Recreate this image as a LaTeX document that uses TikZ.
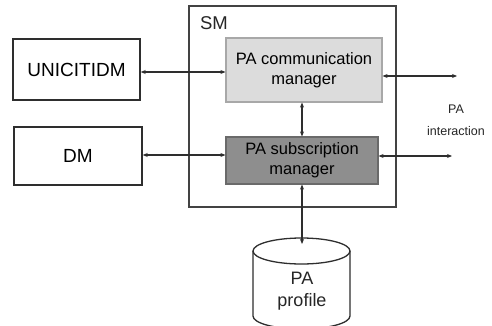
\documentclass[tikz,border=0pt]{standalone}
\usepackage{fontspec}
\setmainfont{Liberation Sans}
\usetikzlibrary{arrows.meta}
\definecolor{linec}{HTML}{2E2E2E}
\definecolor{lightbox}{HTML}{DCDCDC}
\definecolor{lightborder}{HTML}{A8A8A8}
\definecolor{darkbox}{HTML}{8E8E8E}
\definecolor{darkborder}{HTML}{6A6A6A}
\tikzset{
  plainbox/.style={draw=linec, line width=1.4pt, fill=white},
  lightmgr/.style={draw=lightborder, line width=1.2pt, fill=lightbox},
  darkmgr/.style={draw=darkborder, line width=1.2pt, fill=darkbox},
  conn/.style={draw=linec, line width=1.3pt, {Stealth[length=5pt,width=4pt]}-{Stealth[length=5pt,width=4pt]}},
  lbl/.style={inner sep=0pt, align=center, text=black!85}
}
\begin{document}
\begin{tikzpicture}[x=1pt,y=-1pt]
\useasboundingbox (0,0) rectangle (492,326);
% SM container
\draw[draw=linec!90, line width=1.4pt, fill=white] (189,6) rectangle (396,207);
\node[lbl, anchor=center, font=\fontsize{18.5}{20}\selectfont] (smlbl) at (214,23) {SM};
% outer boxes
\node[plainbox, minimum width=127pt, minimum height=61pt, inner sep=0pt, font=\fontsize{19}{21}\selectfont] (uni) at (76.5,69.5) {UNICITIDM};
\node[plainbox, minimum width=128pt, minimum height=58pt, inner sep=0pt, font=\fontsize{19}{21}\selectfont] (dm) at (78,156) {DM};
% managers
\node[lightmgr, minimum width=156pt, minimum height=64pt, inner sep=0pt, align=center, font=\fontsize{16.5}{20}\selectfont] (comm) at (304,70) {PA communication\\manager};
\node[darkmgr, minimum width=152pt, minimum height=47pt, inner sep=0pt, align=center, font=\fontsize{16.5}{20}\selectfont] (sub) at (302,160.5) {PA subscription\\manager};
% cylinder
\draw[draw=linec, line width=1.3pt, fill=white] (253,251) -- (253,316) arc[start angle=180, end angle=360, x radius=48.5pt, y radius=13pt] -- (350,251);
\draw[draw=linec, line width=1.3pt, fill=white] (301.5,251) ellipse[x radius=48.5pt, y radius=13pt];
\node[lbl, font=\fontsize{18}{22}\selectfont] (prof) at (302,291) {PA\\profile};
\coordinate (cyltop) at (302,244);
% right free ends
\coordinate (r1) at (457,76);
\coordinate (r2) at (452,156);
\node[lbl, font=\fontsize{12.5}{22}\selectfont] (pai) at (456,120) {PA\\interaction};
% connectors
\draw[conn] (uni.east |- 0,72) -- (comm.west |- 0,72);
\draw[conn] (dm.east |- 0,155) -- (sub.west |- 0,155);
\draw[conn] (comm.east |- 0,76) -- (r1);
\draw[conn] (sub.east |- 0,156) -- (r2);
\draw[conn] (comm.south -| 302,0) -- (sub.north -| 302,0);
\draw[conn] (sub.south -| 302,0) -- (cyltop);
\end{tikzpicture}
\end{document}
